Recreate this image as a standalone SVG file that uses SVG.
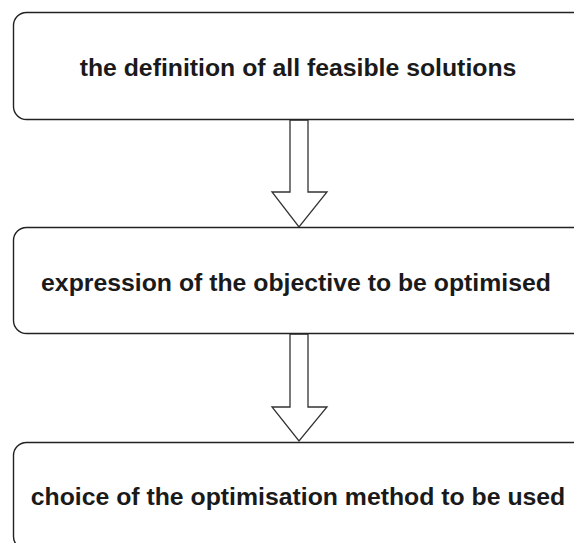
<svg xmlns="http://www.w3.org/2000/svg" width="574" height="543" viewBox="0 0 574 543">
  <style>
    .box { fill: #ffffff; stroke: #222222; stroke-width: 1.4; }
    .label { font-family: "Liberation Sans", Arial, sans-serif; font-size: 24.8px; font-weight: bold; fill: #1a1a1a; text-anchor: middle; }
    .flow { fill: #ffffff; stroke: #333333; stroke-width: 1.3; stroke-linejoin: miter; }
  </style>
  <rect width="574" height="543" fill="#ffffff"/>

  <g id="connectors">
    <polygon class="flow" points="290,120 308,120 308,192 327,192 299,227 272,192 290,192"/>
    <polygon class="flow" points="290,334 308,334 308,407 327,407 299,441 272,407 290,407"/>
  </g>

  <g id="node-feasible">
    <rect class="box" x="13.5" y="12.5" width="572" height="107" rx="13"/>
    <text class="label" x="298" y="76">the definition of all feasible solutions</text>
  </g>

  <g id="node-objective">
    <rect class="box" x="13.5" y="227.5" width="572" height="106" rx="13"/>
    <text class="label" x="296" y="291">expression of the objective to be optimised</text>
  </g>

  <g id="node-method">
    <rect class="box" x="13.5" y="442.5" width="572" height="107" rx="13"/>
    <text class="label" x="298" y="505">choice of the optimisation method to be used</text>
  </g>
</svg>
